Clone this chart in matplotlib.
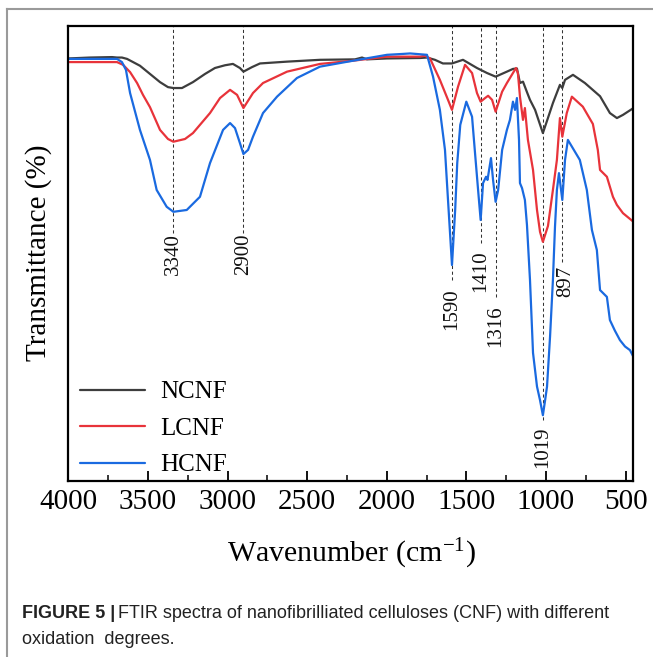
import matplotlib
matplotlib.use("Agg")
import matplotlib.pyplot as plt
from matplotlib.lines import Line2D
from matplotlib.ticker import MultipleLocator

# ---------------- data ----------------
ncnf_w = [4000, 3864, 3725, 3694, 3663, 3631, 3550, 3487, 3424, 3374, 3340, 3286, 3217, 3141, 3079, 3016,
          2966, 2922, 2900, 2846, 2796, 2626, 2419, 2199, 2155, 2124, 1998, 1791, 1747, 1697, 1647, 1590,
          1521, 1477, 1433, 1370, 1316, 1245, 1207, 1182, 1163, 1144, 1119, 1100, 1068, 1019, 995, 956,
          912, 897, 880, 830, 755, 660, 598, 554, 516, 450]
ncnf_t = [92.8, 93.0, 93.1, 93.0, 93.0, 92.7, 91.2, 89.4, 87.6, 86.5, 86.3, 86.3, 87.6, 89.4, 90.7, 91.3,
          91.6, 90.7, 89.9, 90.9, 91.7, 92.1, 92.5, 92.6, 93.0, 92.6, 92.8, 92.9, 93.0, 92.5, 91.7, 91.7,
          92.5, 91.6, 90.7, 89.6, 88.8, 89.9, 90.5, 90.6, 87.4, 87.7, 85.4, 83.7, 81.5, 76.4, 78.9, 83.0,
          87.0, 86.3, 88.1, 89.2, 87.4, 84.5, 80.8, 79.7, 80.4, 81.9]

lcnf_w = [4000, 3694, 3656, 3612, 3568, 3531, 3487, 3424, 3374, 3340, 3267, 3217, 3110, 3047, 2984, 2940,
          2900, 2840, 2777, 2626, 2419, 2212, 1998, 1791, 1760, 1728, 1666, 1615, 1590, 1552, 1508, 1464,
          1433, 1410, 1382, 1363, 1338, 1316, 1275, 1245, 1207, 1188, 1176, 1163, 1144, 1132, 1113, 1081,
          1056, 1037, 1019, 987, 956, 931, 912, 897, 869, 837, 768, 705, 674, 660, 617, 579, 554, 516, 450]
lcnf_t = [92.0, 92.0, 91.4, 89.8, 87.4, 84.8, 82.1, 77.1, 75.1, 74.5, 75.1, 76.4, 80.8, 84.1, 85.9, 84.8,
          81.9, 85.2, 87.4, 89.9, 91.6, 92.3, 93.2, 93.2, 93.4, 92.8, 88.1, 83.7, 81.5, 86.6, 91.4, 89.6,
          85.2, 83.3, 84.1, 84.6, 83.7, 81.1, 85.5, 87.4, 89.6, 90.7, 89.6, 84.4, 79.3, 81.9, 74.9, 68.3,
          59.5, 54.7, 52.5, 56.0, 63.9, 70.5, 79.7, 75.6, 80.8, 84.4, 82.2, 78.4, 72.7, 68.3, 66.8, 62.4,
          60.6, 58.8, 56.9]

hcnf_w = [4000, 3694, 3663, 3638, 3612, 3550, 3487, 3445, 3382, 3340, 3256, 3173, 3110, 3028, 2984, 2953,
          2922, 2900, 2871, 2840, 2777, 2689, 2564, 2419, 2212, 1998, 1897, 1853, 1747, 1709, 1666, 1634,
          1615, 1590, 1570, 1557, 1538, 1500, 1464, 1445, 1426, 1410, 1395, 1376, 1367, 1345, 1332, 1316,
          1300, 1275, 1245, 1226, 1207, 1194, 1182, 1169, 1163, 1150, 1132, 1119, 1100, 1081, 1056, 1037,
          1019, 1005, 993, 974, 956, 943, 931, 918, 897, 880, 862, 787, 743, 711, 680, 660, 617, 598, 567,
          535, 503, 472, 450]
hcnf_t = [92.7, 92.7, 92.0, 90.3, 85.2, 77.1, 70.5, 63.9, 60.2, 59.1, 59.5, 62.4, 69.8, 77.1, 78.6, 77.5,
          74.2, 71.8, 72.7, 75.6, 80.8, 84.4, 88.5, 91.0, 92.3, 93.6, 93.8, 93.9, 93.6, 88.8, 81.5, 72.7,
          61.7, 47.4, 59.5, 69.8, 78.2, 83.3, 80.0, 71.9, 63.9, 57.3, 65.4, 66.8, 66.1, 70.9, 66.1, 61.3,
          63.9, 72.7, 77.1, 79.3, 83.3, 81.5, 84.1, 74.9, 65.4, 64.3, 61.7, 56.2, 44.1, 28.1, 20.7, 17.7,
          14.4, 17.7, 20.7, 31.7, 44.1, 55.8, 63.9, 67.6, 61.7, 70.5, 74.9, 70.5, 63.9, 55.1, 50.7, 41.9,
          40.4, 35.3, 33.0, 30.9, 29.5, 28.7, 27.2]

series_names = ["NCNF", "LCNF", "HCNF"]
peak_labels = ["3340", "2900", "1590", "1410", "1316", "1019", "897"]
peak_w = [3340, 2900, 1590, 1410, 1316, 1019, 897]
x_ticks = [4000, 3500, 3000, 2500, 2000, 1500, 1000, 500]

# ---------------- style ----------------
plt.rcParams["font.family"] = ["Liberation Serif", "DejaVu Serif"]
plt.rcParams["mathtext.fontset"] = "custom"
plt.rcParams["mathtext.rm"] = "Liberation Serif"
plt.rcParams["mathtext.it"] = "Liberation Serif:italic"

colors = ["#3d3d3d", "#e8333a", "#1a6ae0"]

fig = plt.figure(figsize=(6.53, 6.57), dpi=100)
ax = fig.add_axes([0.1046, 0.2683, 0.8655, 0.6926])

for w, t, c, n in zip([ncnf_w, lcnf_w, hcnf_w], [ncnf_t, lcnf_t, hcnf_t], colors, series_names):
    ax.plot(w, t, color=c, lw=1.6, label=n, solid_joinstyle="round", solid_capstyle="round")

# dashed marker lines and labels
line_end = [54.4, 54.4, 44.1, 52.2, 40.4, 13.3, 48.1]
label_y = [49.8, 49.8, 37.7, 46.1, 34.0, 7.4, 43.9]
label_dx = [0, 0, 0, 0, 0, 0, -20]
for lab, w, ye, yl, dx in zip(peak_labels, peak_w, line_end, label_y, label_dx):
    ax.plot([w, w], [ye, 100], ls=(0, (3, 2.5)), color="#333333", lw=0.75, zorder=1)
    ax.text(w + dx, yl, lab, rotation=90, ha="center", va="center", fontsize=15, color="#111111")

ax.set_xlim(4000, 450)
ax.set_ylim(0, 100)
ax.set_xticks(x_ticks)
ax.xaxis.set_minor_locator(MultipleLocator(250))
ax.set_yticks([])
ax.tick_params(axis="x", which="major", direction="in", length=7, width=1.3, labelsize=21, pad=6)
ax.tick_params(axis="x", which="minor", direction="in", length=4, width=1.1)
for s in ax.spines.values():
    s.set_linewidth(1.6)
ax.set_xlabel("Wavenumber (cm$^{-1}$)", fontsize=21.5, labelpad=16)
ax.set_ylabel("Transmittance (%)", fontsize=21, labelpad=12)

leg = ax.legend(loc="lower left", bbox_to_anchor=(0.0, -0.016), frameon=False, fontsize=18,
                handlelength=2.6, handletextpad=0.6, labelspacing=0.56, borderaxespad=0.07)

# figure border (top and left) like the page frame
fig.add_artist(Line2D([7 / 653, 1.0], [1 - 9 / 657, 1 - 9 / 657], transform=fig.transFigure,
                      color="#9a9a9a", lw=1.5))
fig.add_artist(Line2D([7 / 653, 7 / 653], [0.0, 1 - 9 / 657], transform=fig.transFigure,
                      color="#9a9a9a", lw=1.5))

# caption
cap_fam = ["Liberation Sans", "DejaVu Sans"]
t1 = fig.text(22 / 653, 1 - 613 / 657, "FIGURE 5 |", fontsize=13, fontweight="bold",
              family=cap_fam, color="#222222", va="center")
fig.canvas.draw()
bb = t1.get_window_extent()
fig.text(bb.x1 / fig.bbox.width + 0.004, 1 - 613 / 657,
         "FTIR spectra of nanofibrilliated celluloses (CNF) with different",
         fontsize=13, family=cap_fam, color="#222222", va="center")
fig.text(22 / 653, 1 - 639 / 657, "oxidation  degrees.", fontsize=13, family=cap_fam,
         color="#222222", va="center")

fig.savefig("out.png", dpi=100)
